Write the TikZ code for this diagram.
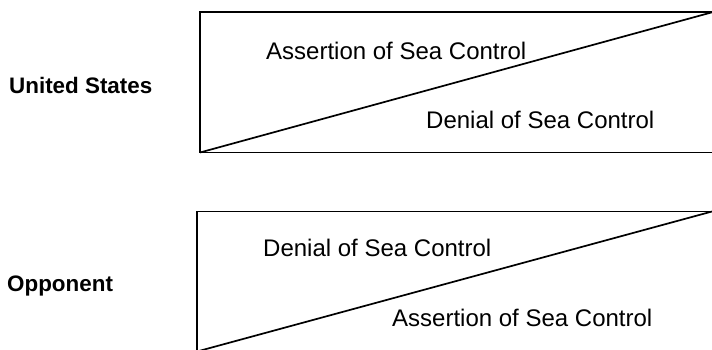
\documentclass[tikz,border=0pt]{standalone}
\usepackage{fontspec}
\setmainfont{Liberation Sans}
\begin{document}
\begin{tikzpicture}[x=1pt,y=-1pt,
  frame/.style={line width=1.7pt, line join=miter},
  sidelabel/.style={font=\bfseries\fontsize{22.4}{26}\selectfont, inner sep=0pt, anchor=base west},
  zonelabel/.style={font=\fontsize{24}{28}\selectfont, inner sep=0pt, anchor=base west}]
\useasboundingbox (0,0) rectangle (712,350);
% United States panel
\coordinate (utl) at (200,12.3);
\coordinate (ubl) at (200,152.5);
\coordinate (utr) at (712,12.3);
\coordinate (ubr) at (712,152.5);
\draw[frame] (utr) -- (utl) -- (ubl) -- (ubr);
\draw[frame] (ubl) -- (utr);
\node[sidelabel] (us) at (9,94) {United States};
\node[zonelabel] (usassert) at (266,60) {Assertion of Sea Control};
\node[zonelabel] (usdeny) at (426,129) {Denial of Sea Control};
% Opponent panel
\coordinate (otl) at (197,211.5);
\coordinate (obl) at (197,351.5);
\coordinate (otr) at (712,211.5);
\coordinate (obr) at (712,351.5);
\draw[frame] (otr) -- (otl) -- (obl) -- (obr);
\draw[frame] (obl) -- (otr);
\node[sidelabel] (opp) at (7,291) {Opponent};
\node[zonelabel] (oppdeny) at (263,256) {Denial of Sea Control};
\node[zonelabel] (oppassert) at (392,326) {Assertion of Sea Control};
\end{tikzpicture}
\end{document}
